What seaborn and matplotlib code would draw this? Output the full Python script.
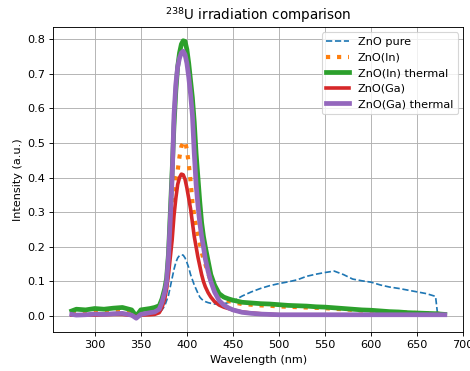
import matplotlib
matplotlib.use('Agg')
import matplotlib.pyplot as plt
import seaborn as sns
import pandas as pd

# Wavelength grid (nm) and spectra
wavelength = [275, 280, 290, 300, 310, 320, 330, 340, 345, 350, 360, 365, 370, 373, 376, 378,
              380, 382, 384, 386, 388, 390, 392, 394, 396, 398, 400, 402, 404, 406, 408, 410,
              412, 414, 416, 418, 420, 423, 426, 430, 435, 440, 445, 450, 460, 470, 480, 490,
              500, 510, 520, 530, 540, 550, 560, 570, 580, 590, 600, 610, 620, 630, 640, 650,
              660, 670, 672, 675, 680]

zno_pure = [0.005, 0.004, 0.004, 0.003, 0.004, 0.005, 0.005, 0.002, 0.0, 0.002, 0.004, 0.005, 0.01, 0.018, 0.03, 0.045,
            0.06, 0.085, 0.11, 0.135, 0.155, 0.168, 0.175, 0.177, 0.176, 0.168, 0.155, 0.14, 0.12, 0.105, 0.09, 0.078,
            0.066, 0.055, 0.049, 0.045, 0.042, 0.039, 0.037, 0.035, 0.035, 0.036, 0.039, 0.043, 0.058, 0.07, 0.08, 0.088,
            0.094, 0.099, 0.105, 0.115, 0.121, 0.126, 0.13, 0.12, 0.107, 0.102, 0.098, 0.09, 0.084, 0.08, 0.075, 0.07,
            0.065, 0.057, 0.01, 0.003, 0.003]

zno_in = [0.01, 0.01, 0.012, 0.012, 0.013, 0.014, 0.015, 0.01, 0.005, 0.01, 0.012, 0.013, 0.015, 0.03, 0.06, 0.09,
          0.14, 0.2, 0.27, 0.34, 0.40, 0.42, 0.46, 0.49, 0.50, 0.505, 0.48, 0.44, 0.39, 0.33, 0.29, 0.26,
          0.235, 0.21, 0.185, 0.165, 0.15, 0.125, 0.1, 0.08, 0.06, 0.05, 0.044, 0.04, 0.035, 0.033, 0.031, 0.03,
          0.028, 0.027, 0.026, 0.025, 0.024, 0.023, 0.021, 0.02, 0.018, 0.016, 0.015, 0.013, 0.012, 0.011, 0.01, 0.009,
          0.008, 0.007, 0.007, 0.006, 0.005]

zno_in_thermal = [0.015, 0.02, 0.018, 0.022, 0.02, 0.023, 0.025, 0.018, 0.0, 0.018, 0.022, 0.025, 0.03, 0.05, 0.08, 0.11,
                  0.18, 0.3, 0.42, 0.55, 0.65, 0.72, 0.76, 0.785, 0.795, 0.793, 0.77, 0.73, 0.68, 0.63, 0.56, 0.47,
                  0.40, 0.33, 0.27, 0.23, 0.2, 0.16, 0.12, 0.09, 0.065, 0.055, 0.05, 0.046, 0.04, 0.038, 0.036, 0.035,
                  0.033, 0.031, 0.03, 0.029, 0.027, 0.026, 0.024, 0.022, 0.02, 0.018, 0.017, 0.015, 0.013, 0.012, 0.01, 0.009,
                  0.008, 0.007, 0.007, 0.006, 0.005]

zno_ga = [0.003, 0.003, 0.004, 0.003, 0.004, 0.005, 0.005, 0.002, -0.002, 0.003, 0.004, 0.005, 0.01, 0.025, 0.05, 0.08,
          0.12, 0.17, 0.22, 0.29, 0.34, 0.38, 0.40, 0.41, 0.408, 0.395, 0.37, 0.34, 0.31, 0.27, 0.23, 0.2,
          0.17, 0.145, 0.12, 0.1, 0.085, 0.068, 0.055, 0.042, 0.032, 0.026, 0.022, 0.018, 0.012, 0.009, 0.007, 0.005,
          0.004, 0.003, 0.003, 0.003, 0.003, 0.003, 0.003, 0.003, 0.003, 0.003, 0.003, 0.003, 0.003, 0.003, 0.003, 0.003,
          0.003, 0.003, 0.003, 0.003, 0.003]

zno_ga_thermal = [0.005, 0.003, 0.004, 0.006, 0.005, 0.007, 0.008, 0.003, -0.006, 0.005, 0.01, 0.012, 0.02, 0.04, 0.07, 0.1,
                  0.17, 0.28, 0.4, 0.58, 0.67, 0.72, 0.745, 0.76, 0.765, 0.755, 0.73, 0.69, 0.64, 0.58, 0.47, 0.38,
                  0.32, 0.27, 0.23, 0.2, 0.165, 0.13, 0.1, 0.07, 0.045, 0.032, 0.024, 0.018, 0.011, 0.008, 0.006, 0.005,
                  0.004, 0.004, 0.004, 0.004, 0.004, 0.004, 0.004, 0.004, 0.004, 0.004, 0.004, 0.004, 0.004, 0.004, 0.004, 0.004,
                  0.004, 0.004, 0.004, 0.004, 0.004]

df = pd.DataFrame({'Wavelength': wavelength, 'ZnO pure': zno_pure, 'ZnO(In)': zno_in,
                   'ZnO(In) thermal': zno_in_thermal, 'ZnO(Ga)': zno_ga,
                   'ZnO(Ga) thermal': zno_ga_thermal})

colors = sns.color_palette('tab10')

dpi = 81
fig, ax = plt.subplots(figsize=(470 / dpi, 371 / dpi), dpi=dpi)
fig.subplots_adjust(left=0.113, right=0.986, bottom=0.104, top=0.928)

sns.lineplot(data=df, x='Wavelength', y='ZnO pure', ax=ax, color=colors[0],
             linestyle='--', linewidth=1.5, label='ZnO pure')
sns.lineplot(data=df, x='Wavelength', y='ZnO(In)', ax=ax, color=colors[1],
             linestyle=':', linewidth=3.7, label='ZnO(In)')
sns.lineplot(data=df, x='Wavelength', y='ZnO(In) thermal', ax=ax, color=colors[2],
             linewidth=4.2, label='ZnO(In) thermal')
sns.lineplot(data=df, x='Wavelength', y='ZnO(Ga)', ax=ax, color=colors[3],
             linewidth=3.2, label='ZnO(Ga)')
sns.lineplot(data=df, x='Wavelength', y='ZnO(Ga) thermal', ax=ax, color=colors[4],
             linewidth=4.2, label='ZnO(Ga) thermal')

ax.set_xlim(254.75, 700.25)
ax.set_ylim(-0.047, 0.8355)
ax.set_title(r'$^{238}$U irradiation comparison')
ax.set_xlabel('Wavelength (nm)')
ax.set_ylabel('Intensity (a.u.)')
ax.grid(True)
ax.legend(loc='upper right')

plt.savefig('out.png', dpi=dpi)
